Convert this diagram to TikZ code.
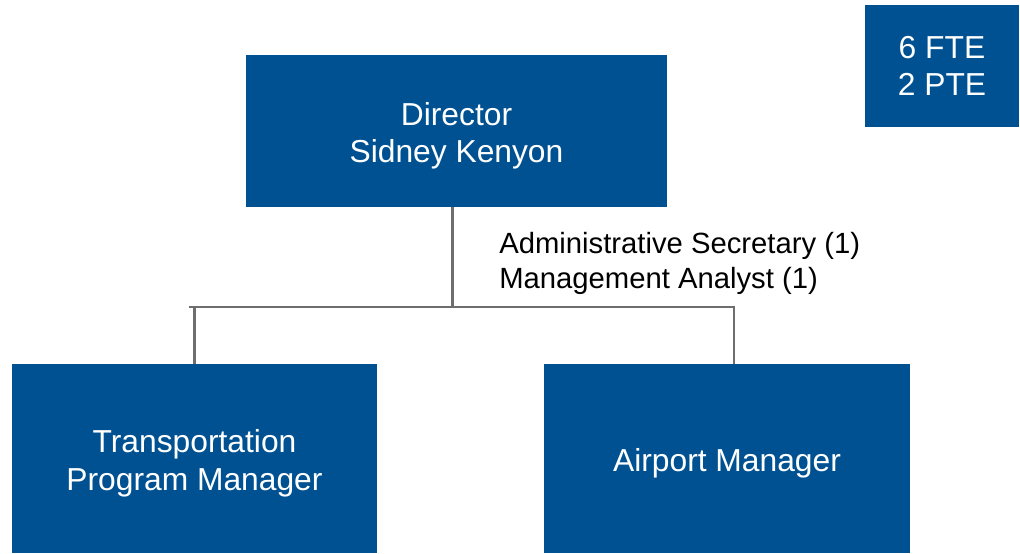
\documentclass[tikz,border=0pt]{standalone}
\usepackage{fontspec}
\setmainfont{Liberation Sans}
\usetikzlibrary{positioning}
\definecolor{orgblue}{RGB}{0,81,145}
\definecolor{linegray}{RGB}{110,110,110}
\newcommand{\tstrut}{\rule{0pt}{23pt}}
\tikzstyle{obox}=[rectangle, fill=orgblue, draw=none, text=white, align=center,
                  inner sep=0pt, font=\fontsize{22.6}{26.5}\selectfont]
\tikzstyle{pline}=[-, line width=1.6pt, draw=linegray]
\begin{document}
\begin{tikzpicture}[x=0.025cm, y=-0.025cm]
\useasboundingbox (0,0) rectangle (1020,553);

\node (DIR) [obox, minimum width=10.525cm, minimum height=3.8cm] at (456.5,131)
 {\tstrut Director\\Sidney Kenyon};
\node (FTE) [obox, minimum width=3.85cm, minimum height=3.05cm] at (942,66)
 {6 FTE\\2 PTE};
\node (TPM) [obox, minimum width=9.125cm, minimum height=4.725cm] at (194.5,458.5)
 {\tstrut Transportation\\Program Manager};
\node (APM) [obox, minimum width=9.15cm, minimum height=4.725cm] at (727,458.5)
 {\tstrut Airport Manager};
\node (STAFF) [align=left, anchor=west, inner sep=0pt,
 font=\fontsize{20.8}{24.8}\selectfont] at (499,263.5)
 {Administrative Secretary (1)\\Management Analyst (1)};

 \draw[pline] ([xshift=-0.1cm]DIR.south) -- ++(0,100) -| ([xshift=0.175cm]APM.north);
 \draw[pline] ([xshift=-0.1cm]DIR.south) -- ++(0,100) -| (TPM.north);
 \draw[pline] ([xshift=-0.1cm,yshift=-2.5cm]DIR.south) -- ++(-264,0);

\end{tikzpicture}
\end{document}
